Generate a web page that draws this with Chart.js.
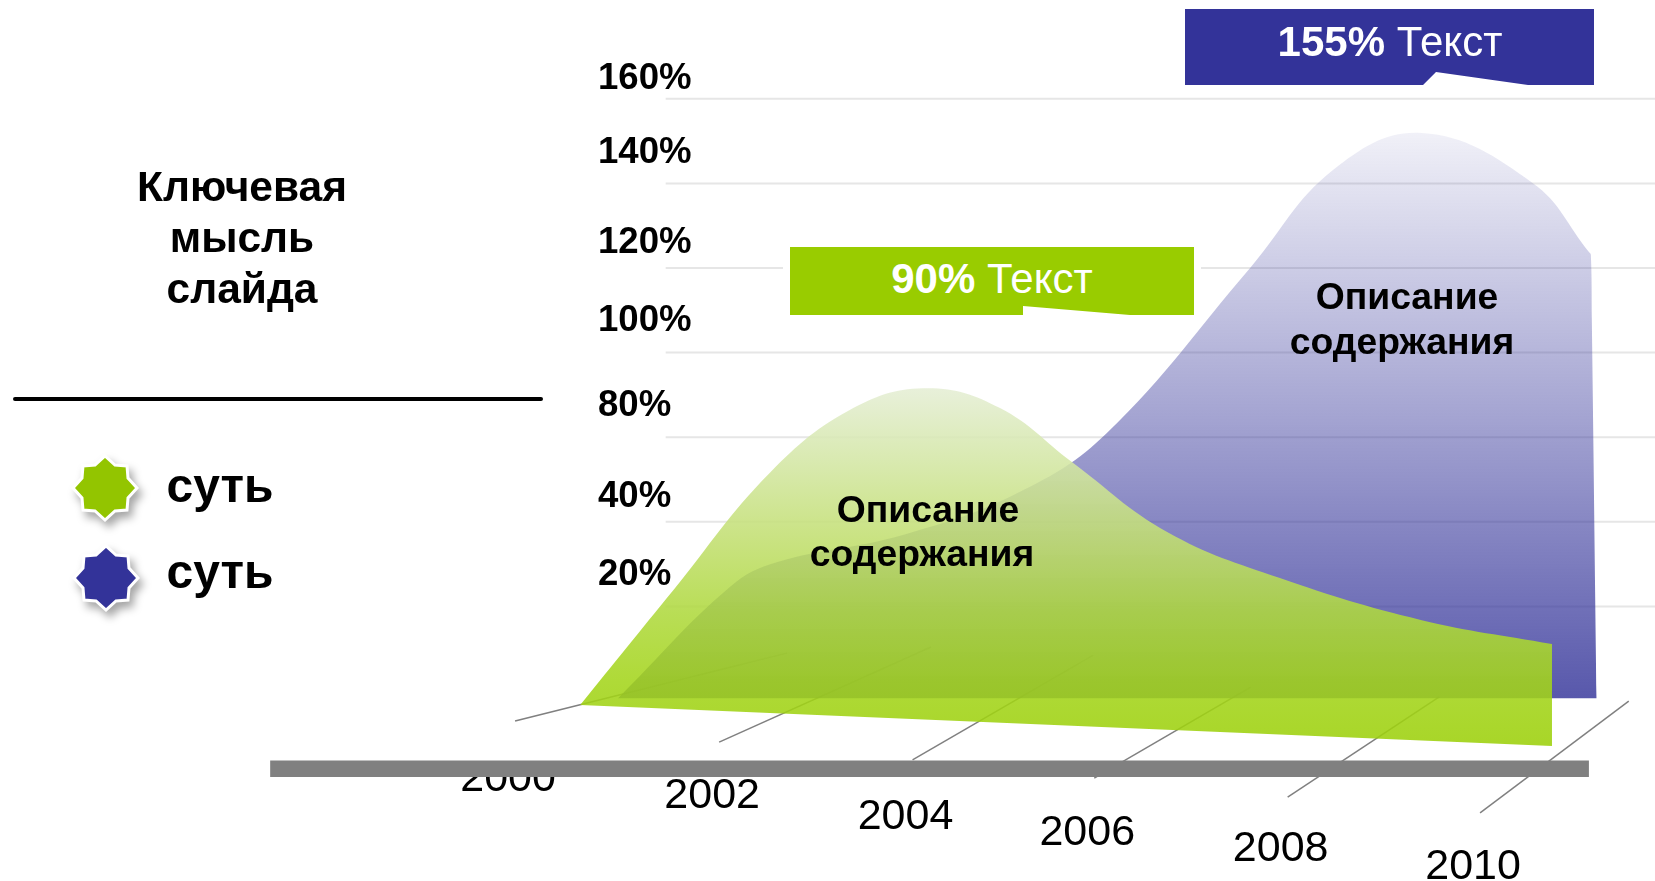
<!DOCTYPE html>
<html>

<head>
	<meta charset="utf-8" />
	<title>Ключевая мысль слайда</title>
	<script src="https://cdn.jsdelivr.net/npm/chart.js"></script>

	<style>
		body {
			margin: 0;
			background: #ffffff;
			font-family: "Liberation Sans", sans-serif;
			color: #000000;
		}

		.stage {
			position: relative;
			width: 1655px;
			height: 881px;
			overflow: hidden;
		}

		#areaChart {
			position: absolute;
			left: 0;
			top: 0;
		}

		.txt {
			position: absolute;
			transform: translate(-50%, -50%);
			white-space: nowrap;
			font-weight: 700;
		}

		.title {
			font-size: 42.5px;
		}

		.about {
			font-size: 37.3px;
		}

		.key {
			font-size: 48px;
		}

		.gap {
			position: absolute;
			background: #ffffff;
		}

		.callout {
			position: absolute;
		}

		.callout-text {
			font-size: 42px;
			color: #ffffff;
		}

		.callout-text span {
			font-weight: 400;
		}

		.rule {
			position: absolute;
			left: 13px;
			top: 397px;
			width: 530px;
			height: 4px;
			border-radius: 2px;
			background: #000000;
		}

		.stars {
			position: absolute;
			left: 0;
			top: 0;
		}

		.stars use {
			stroke: #ffffff;
			stroke-width: 3;
			filter: drop-shadow(4px 6px 4px rgba(0, 0, 0, .35));
		}
	</style>
</head>

<body>
	<div class="stage">
		<canvas id="areaChart" width="1655" height="881"></canvas>

		<div class="txt title" style="left:242px;top:187px">Ключевая</div>
		<div class="txt title" style="left:242px;top:238px">мысль</div>
		<div class="txt title" style="left:242px;top:289px">слайда</div>
		<div class="rule"></div>

		<svg class="stars" width="200" height="881">
			<defs>
				<polygon id="star"
					points="0,-32 10,-23 22,-22 23,-10 32,0 23,10 22,22 10,23 0,32 -10,23 -22,22 -23,10 -32,0 -23,-10 -22,-22 -10,-23" />
			</defs>
			<use href="#star" x="105" y="488" fill="#93c500" />
			<use href="#star" x="106" y="578" fill="#333399" />
		</svg>
		<div class="txt key" style="left:220px;top:485px">суть</div>
		<div class="txt key" style="left:220px;top:571px">суть</div>

		<div class="gap" style="left:783px;top:241px;width:418px;height:80px"></div>
		<div class="callout"
			style="left:790px;top:247px;width:404px;height:68px;background:#99cc00;clip-path:polygon(0 0,100% 0,100% 100%,340px 100%,233px 59px,233px 100%,0 100%)">
		</div>
		<div class="txt callout-text" style="left:992px;top:279px">90% <span>Текст</span></div>

		<div class="callout"
			style="left:1185px;top:9px;width:409px;height:76px;background:#333399;clip-path:polygon(0 0,100% 0,100% 100%,343px 100%,251px 63px,238px 100%,0 100%)">
		</div>
		<div class="txt callout-text" style="left:1390px;top:42px">155% <span>Текст</span></div>

		<div class="txt about" style="left:928px;top:509px">Описание</div>
		<div class="txt about" style="left:922px;top:553px">содержания</div>
		<div class="txt about" style="left:1407px;top:296px">Описание</div>
		<div class="txt about" style="left:1402px;top:341px">содержания</div>
	</div>

	<script>
		// value axis as printed on the slide: gridlines are evenly spaced, 60% is skipped
		const yTickLabels = ["20%", "40%", "80%", "100%", "120%", "140%", "160%"];
		const yGridPct = [20, 40, 80, 100, 120, 140, 160];
		const yLabelSlots = [1.369, 2.291, 3.366, 4.371, 5.293, 6.357, 7.232];

		const xTickLabels = ["2000", "2002", "2004", "2006", "2008", "2010"];
		const xTickDrop = [58, 54, 57, 55, 52, 54];

		// front series
		const greenYears = [2000, 2000.96, 2001.95, 2002.81, 2003.58, 2004.32, 2005.06, 2006.04, 2007.2, 2008.65, 2010];
		const greenPct = [-3.3, 23.9, 63.1, 86.9, 91.6, 86.9, 68.3, 37.6, 26.7, 16.8, 11.1];
		const greenFloorYears = [2000, 2010];
		const greenFloorPct = [-3.3, -13];

		// rear series, shifted right by the fake perspective
		const blueYears = [2000.39, 2001.54, 2002.03, 2003.32, 2004.5, 2005.42, 2006.9, 2007.75, 2008.66, 2009.8, 2010.38, 2010.4, 2010.41, 2010.46];
		const bluePct = [-1.7, 24.6, 30.5, 36.9, 53.6, 81, 120.2, 143.2, 151.9, 140.1, 123.8, 123.1, 107.7, -1.7];

		// floor lines going back from each year label
		const depthFrontYears = [1999.33, 2001.43, 2003.42, 2005.29, 2007.28, 2009.26];
		const depthFrontPct = [-7.1, -12.1, -16.3, -20.6, -25.1, -28.8];
		const depthBackYears = [2002.13, 2003.61, 2005.28, 2006.9, 2008.84, 2010.79];
		const depthBackPct = [9, 10.4, 8.5, 0.9, -1.4, -2.4];

		const gridYears = [2000.88, 2011.06];
		const barYears = [1996.81, 2010.38];
		const barPct = -18.4;

		const xRange = [1994.03, 2011.06];
		const yRange = [-2.246, 8.168];

		// percent -> evenly spaced axis position
		function pctToSlot(p) {
			const stops = [0].concat(yGridPct);
			if (p <= 20) return p / 20;
			for (let i = 1; i < stops.length; i++) {
				if (p <= stops[i]) return i - 1 + (p - stops[i - 1]) / (stops[i] - stops[i - 1]);
			}
			return stops.length - 1;
		}

		function points(years, pct) {
			return years.map(function (x, i) {
				return { x: x, y: pctToSlot(pct[i]) };
			});
		}

		function verticalGradient(topPct, bottomPct, stops) {
			return function (c) {
				const chart = c.chart;
				if (!chart.chartArea) return "rgba(0,0,0,0)";
				const y = chart.scales.y;
				const g = chart.ctx.createLinearGradient(0, y.getPixelForValue(pctToSlot(topPct)), 0, y.getPixelForValue(pctToSlot(bottomPct)));
				stops.forEach(function (s) {
					g.addColorStop(s[0], s[1]);
				});
				return g;
			};
		}

		const datasets = [];

		datasets.push({
			label: "bar",
			data: points(barYears, [barPct, barPct]),
			borderColor: "#808080",
			borderWidth: 16.5,
			order: 0,
		});
		datasets.push({
			label: "green",
			data: points(greenYears, greenPct),
			tension: 0.4,
			borderWidth: 0,
			fill: "+1",
			backgroundColor: verticalGradient(91.6, -13, [
				[0, "rgba(229,238,213,.88)"],
				[0.137, "rgba(217,233,181,.88)"],
				[0.444, "rgba(192,222,107,.88)"],
				[0.628, "rgba(175,217,62,.88)"],
				[0.816, "rgba(164,213,28,.88)"],
				[1, "rgba(156,208,10,.88)"],
			]),
			order: 1,
		});
		datasets.push({
			label: "green floor",
			data: points(greenFloorYears, greenFloorPct),
			borderWidth: 0,
			order: 1,
		});
		datasets.push({
			label: "blue",
			data: points(blueYears, bluePct),
			tension: 0.4,
			borderWidth: 0,
			fill: { value: pctToSlot(-1.7) },
			backgroundColor: verticalGradient(151.9, -1.7, [
				[0, "rgba(51,51,153,.07)"],
				[1, "rgba(51,51,153,.82)"],
			]),
			order: 2,
		});
		depthFrontYears.forEach(function (year, i) {
			datasets.push({
				label: "depth " + xTickLabels[i],
				data: points([year, depthBackYears[i]], [depthFrontPct[i], depthBackPct[i]]),
				borderColor: "#808080",
				borderWidth: 1.5,
				order: 3,
			});
		});
		yGridPct.forEach(function (pct) {
			datasets.push({
				label: "grid " + pct,
				data: points(gridYears, [pct, pct]),
				borderColor: "#e6e6e6",
				borderWidth: 2,
				order: 4,
			});
		});

		// the year labels hang under the front end of their floor line, the bar covers 2000
		const yearLabels = {
			id: "yearLabels",
			beforeDatasetsDraw: function (chart) {
				const ctx = chart.ctx;
				ctx.save();
				ctx.font = "43px 'Liberation Sans'";
				ctx.fillStyle = "#000000";
				ctx.textAlign = "center";
				ctx.textBaseline = "middle";
				xTickLabels.forEach(function (label, i) {
					const px = chart.scales.x.getPixelForValue(depthFrontYears[i]);
					const py = chart.scales.y.getPixelForValue(pctToSlot(depthFrontPct[i]));
					ctx.fillText(label, px - 7, py + xTickDrop[i]);
				});
				ctx.restore();
			},
		};

		new Chart(document.getElementById("areaChart"), {
			type: "line",
			data: { datasets: datasets },
			plugins: [yearLabels],
			options: {
				responsive: false,
				animation: false,
				layout: { padding: 0 },
				elements: { point: { radius: 0 } },
				plugins: {
					legend: { display: false },
					tooltip: { enabled: false },
				},
				scales: {
					x: { type: "linear", display: false, min: xRange[0], max: xRange[1] },
					y: { type: "linear", display: false, min: yRange[0], max: yRange[1] },
					yLabels: {
						type: "linear",
						position: "left",
						min: yRange[0],
						max: yRange[1],
						z: 1,
						grid: { display: false, drawTicks: false },
						border: { display: false },
						afterBuildTicks: function (scale) {
							scale.ticks = yLabelSlots.map(function (v) {
								return { value: v };
							});
						},
						// the big tick padding only moves the labels right, it must not shrink the plot
						afterFit: function (scale) {
							scale.width = 0;
							scale.paddingTop = 0;
							scale.paddingBottom = 0;
						},
						ticks: {
							mirror: true,
							crossAlign: "near",
							padding: 598,
							autoSkip: false,
							color: "#000000",
							font: { family: "'Liberation Sans'", size: 36.6, weight: "bold" },
							callback: function (value, index) {
								return yTickLabels[index];
							},
						},
					},
				},
			},
		});
	</script>
</body>

</html>
